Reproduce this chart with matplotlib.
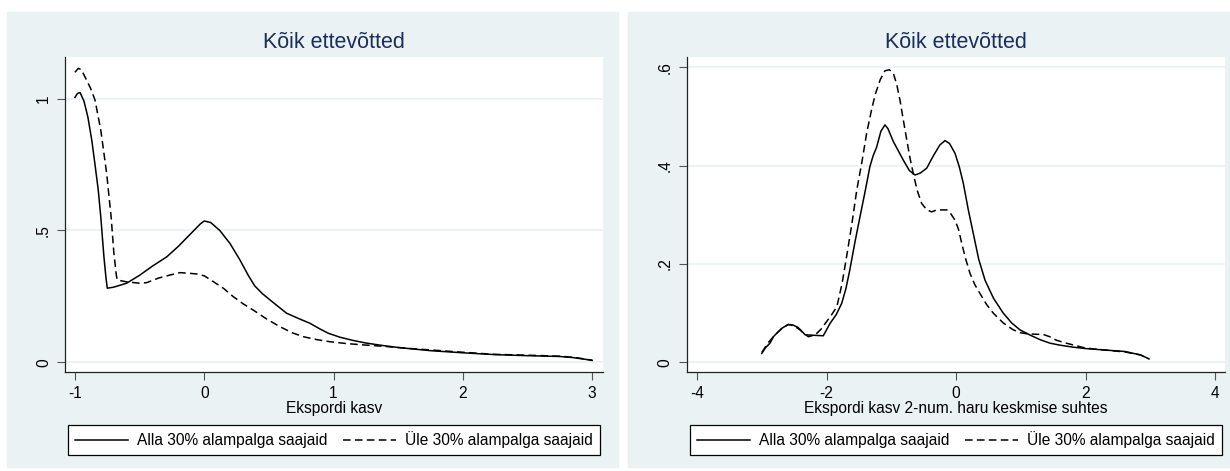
"""Kernel densities of export growth, firms below/above 30% minimum-wage share.
Stata s2color look recreated in matplotlib; writes out.png.
"""
import matplotlib
matplotlib.use("Agg")
import matplotlib.pyplot as plt
from matplotlib.patches import Rectangle

plt.rcParams["font.family"] = ["Liberation Sans", "DejaVu Sans"]

BG = "#EAF2F3"
NAVY = "#1C2C5C"
TITLE = "Kõik ettevõtted"
LEG = ["Alla 30% alampalga saajaid", "Üle 30% alampalga saajaid"]

# ---- left panel: export growth
x_alla_l = [-1.0, -0.98, -0.96, -0.93, -0.90, -0.87, -0.845, -0.82, -0.80, -0.776,
            -0.76, -0.75, -0.70, -0.60, -0.50, -0.40, -0.29, -0.20, -0.10, -0.03,
            0.0, 0.05, 0.12, 0.20, 0.276, 0.34, 0.39, 0.45, 0.55, 0.637, 0.72,
            0.817, 0.90, 0.96, 1.05, 1.15, 1.25, 1.36, 1.50, 1.75, 2.0, 2.25,
            2.5, 2.75, 2.85, 2.95, 3.0]
y_alla_l = [1.005, 1.02, 1.023, 0.99, 0.93, 0.843, 0.75, 0.654, 0.55, 0.40,
            0.32, 0.281, 0.285, 0.30, 0.33, 0.365, 0.40, 0.44, 0.49, 0.525,
            0.536, 0.53, 0.50, 0.45, 0.388, 0.33, 0.29, 0.26, 0.22, 0.186, 0.168,
            0.148, 0.125, 0.11, 0.095, 0.083, 0.073, 0.065, 0.056, 0.044, 0.036, 0.029,
            0.025, 0.022, 0.018, 0.011, 0.007]
x_yle_l = [-1.0, -0.974, -0.95, -0.92, -0.88, -0.845, -0.80, -0.755, -0.72, -0.70,
           -0.68, -0.673, -0.60, -0.50, -0.446, -0.35, -0.265, -0.188, -0.124,
           -0.059, 0.0, 0.07, 0.15, 0.224, 0.30, 0.379, 0.48, 0.585, 0.68, 0.766,
           0.87, 0.972, 1.10, 1.227, 1.40, 1.60, 1.746, 2.0, 2.25, 2.5, 2.75,
           2.85, 2.95, 3.0]
y_yle_l = [1.10, 1.115, 1.11, 1.08, 1.04, 0.995, 0.88, 0.717, 0.55, 0.42,
           0.33, 0.312, 0.305, 0.30, 0.302, 0.32, 0.331, 0.34, 0.338,
           0.335, 0.328, 0.306, 0.28, 0.249, 0.222, 0.198, 0.165, 0.135, 0.112, 0.097,
           0.086, 0.078, 0.071, 0.066, 0.06, 0.052, 0.047, 0.038, 0.030, 0.027, 0.023,
           0.019, 0.012, 0.008]

# ---- right panel: export growth relative to 2-digit industry mean
x_alla_r = [-3.0, -2.94, -2.873, -2.82, -2.77, -2.68, -2.59, -2.52, -2.44, -2.38,
            -2.33, -2.2, -2.05, -1.946, -1.85, -1.765, -1.70, -1.64, -1.56, -1.483,
            -1.40, -1.33, -1.28, -1.225, -1.16, -1.097, -1.05, -0.968, -0.89, -0.813,
            -0.72, -0.633, -0.55, -0.452, -0.35, -0.25, -0.17, -0.10, -0.015, 0.05,
            0.113, 0.19, 0.267, 0.35, 0.448, 0.58, 0.73, 0.86, 0.988, 1.15, 1.30,
            1.45, 1.60, 1.80, 2.0, 2.3, 2.61, 2.85, 2.98]
y_alla_r = [0.018, 0.03, 0.039, 0.052, 0.059, 0.07, 0.077, 0.076, 0.071, 0.063,
            0.056, 0.055, 0.054, 0.079, 0.097, 0.12, 0.15, 0.188, 0.245, 0.296,
            0.35, 0.398, 0.42, 0.438, 0.47, 0.483, 0.475, 0.449, 0.43, 0.411,
            0.39, 0.381, 0.385, 0.395, 0.42, 0.442, 0.451, 0.445, 0.425, 0.398,
            0.364, 0.31, 0.262, 0.21, 0.167, 0.13, 0.10, 0.08, 0.066, 0.055, 0.046,
            0.039, 0.035, 0.031, 0.028, 0.025, 0.022, 0.015, 0.007]
x_yle_r = [-3.0, -2.9, -2.82, -2.7, -2.59, -2.5, -2.41, -2.34, -2.28, -2.2,
           -2.15, -2.08, -2.02, -1.93, -1.84, -1.76, -1.69, -1.61, -1.533, -1.45,
           -1.38, -1.31, -1.25, -1.17, -1.097, -1.03, -0.968, -0.915, -0.865, -0.81,
           -0.76, -0.71, -0.66, -0.60, -0.53, -0.45, -0.375, -0.30, -0.20, -0.143,
           -0.08, -0.015, 0.04, 0.088, 0.15, 0.216, 0.29, 0.37, 0.47, 0.576, 0.73,
           0.885, 1.0, 1.1, 1.246, 1.34, 1.45, 1.55, 1.70, 2.0, 2.3, 2.61, 2.85, 2.98]
y_yle_r = [0.02, 0.04, 0.052, 0.068, 0.077, 0.074, 0.066, 0.058, 0.052, 0.055,
           0.059, 0.068, 0.079, 0.095, 0.113, 0.16, 0.215, 0.28, 0.35, 0.41,
           0.466, 0.51, 0.544, 0.575, 0.593, 0.595, 0.588, 0.565, 0.533, 0.49,
           0.452, 0.415, 0.384, 0.35, 0.323, 0.31, 0.306, 0.31, 0.31, 0.31,
           0.302, 0.289, 0.27, 0.242, 0.21, 0.181, 0.158, 0.14, 0.118, 0.10, 0.08,
           0.066, 0.06, 0.058, 0.057, 0.057, 0.052, 0.045, 0.039, 0.029, 0.025, 0.021, 0.015, 0.007]

W, H = 1230, 471
fig = plt.figure(figsize=(W / 100, H / 100), dpi=100)
fig.patch.set_facecolor("white")
# stata graph regions, behind the axes
for x0, x1 in [(7, 618), (628, 1230)]:
    fig.patches.append(Rectangle((x0 / W, 1 - 467 / H), (x1 - x0) / W, 455 / H,
                                 transform=fig.transFigure, color=BG, zorder=-10))

FS = 11.2
DASH = (0, (5, 2.8))


def panel(rect, xa, ya, xb, yb, xlim, ylim, xticks, yticks, ylabs, xlabel):
    l, r = rect
    ax = fig.add_axes([l / W, 1 - 372.3 / H, (r - l) / W, (372.3 - 57) / H])
    ax.plot(xa, ya, color="black", lw=1.1, label=LEG[0])
    ax.plot(xb, yb, color="black", lw=1.1, ls=DASH, label=LEG[1])
    ax.set_xlim(xlim); ax.set_ylim(ylim)
    ax.set_xticks(xticks)
    ax.set_xticklabels([f"{t:g}" for t in xticks])
    ax.set_yticks(yticks)
    ax.set_yticklabels(ylabs, rotation=90, va="center")
    ax.tick_params(labelsize=FS, length=6, width=0.8, color="#555555", pad=4)
    ax.grid(axis="y", color=BG, lw=1.3)
    ax.set_axisbelow(True)
    for s in ["top", "right"]:
        ax.spines[s].set_visible(False)
    for s in ["left", "bottom"]:
        ax.spines[s].set_linewidth(0.9)
        ax.spines[s].set_color("#222222")
    ax.set_xlabel(xlabel, fontsize=FS, labelpad=0)
    ax.text(0.5, 1 + 15 / 315.3, TITLE, transform=ax.transAxes, ha="center",
            va="center", fontsize=15.5, color=NAVY)
    cx = (l + r) / 2
    ax.legend(loc="center", bbox_to_anchor=(cx / W, 1 - 440 / H),
              bbox_transform=fig.transFigure, ncol=2, fontsize=FS,
              frameon=True, fancybox=False, edgecolor="black", framealpha=1,
              handlelength=3.4, handletextpad=0.6, columnspacing=1.0,
              borderpad=0.45, borderaxespad=0)
    ax.get_legend().get_frame().set_linewidth(0.9)
    return ax


panel((65, 603.3), x_alla_l, y_alla_l, x_yle_l, y_yle_l,
      (-1.077, 3.086), (-0.038, 1.158), [-1, 0, 1, 2, 3],
      [0, 0.5, 1], ["0", ".5", "1"], "Ekspordi kasv")
panel((686.7, 1225), x_alla_r, y_alla_r, x_yle_r, y_yle_r,
      (-4.159, 4.154), (-0.0203, 0.621), [-4, -2, 0, 2, 4],
      [0, 0.2, 0.4, 0.6], ["0", ".2", ".4", ".6"],
      "Ekspordi kasv 2-num. haru keskmise suhtes")

fig.savefig("out.png", dpi=100)
